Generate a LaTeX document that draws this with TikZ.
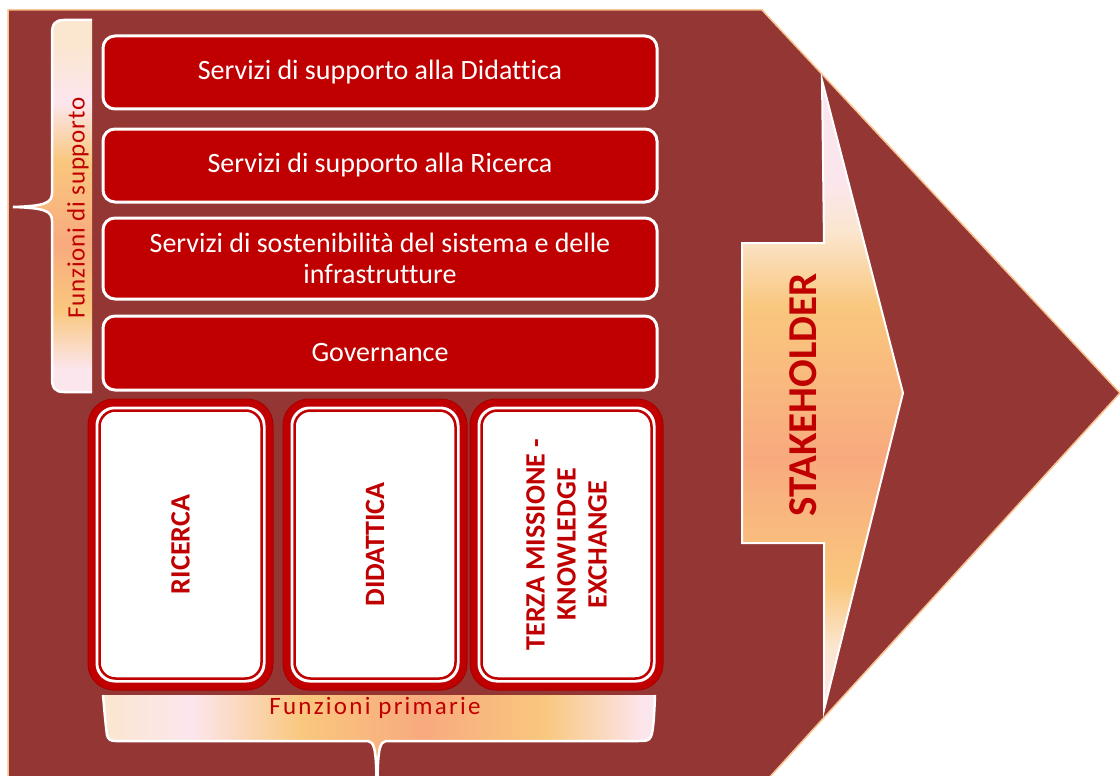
\documentclass[tikz,border=0pt]{standalone}
\usepackage{fontspec}
\setmainfont{Carlito}[Ligatures=NoCommon]
\definecolor{bg}{HTML}{943634}
\definecolor{boxred}{HTML}{C00000}
\definecolor{boxdark}{HTML}{A80000}
\definecolor{edgeor}{HTML}{F8C38F}
\definecolor{pk}{HTML}{FCE6EE}
\definecolor{cr}{HTML}{FBE6CF}
\definecolor{og}{HTML}{F9C77E}
\definecolor{sa}{HTML}{F8AA7E}
\pgfdeclareverticalshading{stakesh}{100bp}{color(0bp)=(pk); color(25bp)=(pk); color(30bp)=(cr); color(35bp)=(og); color(45bp)=(sa); color(57bp)=(og); color(63bp)=(cr); color(67bp)=(pk); color(100bp)=(pk)}
\pgfdeclareverticalshading{suppsh}{100bp}{color(0bp)=(pk); color(28bp)=(pk); color(36bp)=(og); color(45bp)=(sa); color(56bp)=(og); color(64bp)=(pk); color(72bp)=(cr); color(100bp)=(cr)}
\pgfdeclarehorizontalshading{primsh}{100bp}{color(0bp)=(cr); color(25bp)=(cr); color(33bp)=(pk); color(43bp)=(og); color(54bp)=(sa); color(65bp)=(og); color(74bp)=(pk); color(100bp)=(pk)}
\tikzset{
  topbox/.style={draw=white, line width=3pt, fill=boxred, rounded corners=12pt,
    minimum width=554pt, text=white, font=\fontsize{28}{31}\selectfont,
    align=center, inner sep=0pt},
  primbox/.style={fill=boxred, draw=boxdark, line width=1pt, rounded corners=26pt, inner sep=0pt},
  primtext/.style={rotate=90, text=boxred, font=\bfseries\fontsize{28}{31}\selectfont, align=center, inner sep=0pt},
  bracetext/.style={text=boxred, inner sep=0pt}
}
\begin{document}
\begin{tikzpicture}[x=1pt,y=-1pt]
\useasboundingbox (0,0) rectangle (1120,776);
\clip (0,0) rectangle (1120,776);
% background arrow shape
\filldraw[fill=bg, draw=edgeor, line width=1.5pt] (8,10) -- (762,10) -- (1120,393) -- (767,780) -- (8,780) -- cycle;
% stakeholder arrow
\shadedraw[shading=stakesh, draw=white, line width=2pt] (742,243) -- (824,243) -- (822,80) -- (903,393) -- (824,710) -- (824,543) -- (742,543) -- cycle;
\node[text=boxred, font=\bfseries\fontsize{41}{44}\selectfont, rotate=90, inner sep=0pt] (stk) at (803,395) {STAKEHOLDER};
% brace: funzioni di supporto
\shade[shading=suppsh] (92,20) -- (64,20) .. controls (55,20) and (52,24) .. (52,34) -- (52,193) .. controls (52,203) and (45,206) .. (13,207) .. controls (45,208) and (52,211) .. (52,221) -- (52,378) .. controls (52,388) and (55,392) .. (64,392) -- (92,392) -- cycle;
\draw[white, line width=2.5pt] (92,20) -- (64,20) .. controls (55,20) and (52,24) .. (52,34) -- (52,193) .. controls (52,203) and (45,206) .. (13,207) .. controls (45,208) and (52,211) .. (52,221) -- (52,378) .. controls (52,388) and (55,392) .. (64,392) -- (92,392);
\node[bracetext, rotate=90, font=\fontsize{25}{28}\selectfont\addfontfeature{LetterSpace=3}] (fs) at (78,208) {Funzioni di supporto};
% brace: funzioni primarie
\shade[shading=primsh] (103,695) -- (655,695) .. controls (654,720) and (653,735) .. (650,738) .. controls (648,741) and (645,741) .. (638,741) -- (386,741) .. controls (380,742) and (378,748) .. (377.5,776) -- (376.5,776) .. controls (376,748) and (374,742) .. (368,741) -- (116,741) .. controls (110,741) and (108,739) .. (107,735) .. controls (105,720) and (104,705) .. (103,695) -- cycle;
\draw[white, line width=2.5pt] (655,695) .. controls (654,720) and (653,735) .. (650,738) .. controls (648,741) and (645,741) .. (638,741) -- (386,741) .. controls (380,742) and (378,748) .. (377.5,780) (376.5,780) .. controls (376,748) and (374,742) .. (368,741) -- (116,741) .. controls (110,741) and (108,739) .. (107,735) .. controls (105,720) and (104,705) .. (103,695);
\node[bracetext, font=\fontsize{25}{28}\selectfont\addfontfeature{LetterSpace=9}] (fp) at (375,708) {Funzioni primarie};
% support boxes
\node[topbox, minimum height=73pt] (s1) at (380,72.5) {Servizi di supporto alla Didattica};
\node[topbox, minimum height=73pt] (s2) at (380,165.5) {Servizi di supporto alla Ricerca};
\node[topbox, minimum height=81pt] (s3) at (380,258.5) {Servizi di sostenibilità del sistema e delle\\infrastrutture};
\node[topbox, minimum height=74pt] (s4) at (380,353) {Governance};
% primary boxes
\foreach \nm/\cx/\w in {p1/180.5/185, p2/375/184, p3/566.5/193} {
  \node[primbox, minimum width=\w pt, minimum height=291pt] (\nm) at (\cx,544.5) {};
  \fill[white, rounded corners=19pt] ([shift={(8,8)}]\nm.north west) rectangle ([shift={(-8,-8)}]\nm.south east);
  \draw[boxred, line width=2.5pt, fill=white, rounded corners=16pt] ([shift={(12,12)}]\nm.north west) rectangle ([shift={(-12,-12)}]\nm.south east);
}
\node[primtext] (t1) at (p1) {RICERCA};
\node[primtext] (t2) at (p2) {DIDATTICA};
\node[primtext] (t3) at (p3) {TERZA MISSIONE -\\KNOWLEDGE\\EXCHANGE};
\end{tikzpicture}
\end{document}
